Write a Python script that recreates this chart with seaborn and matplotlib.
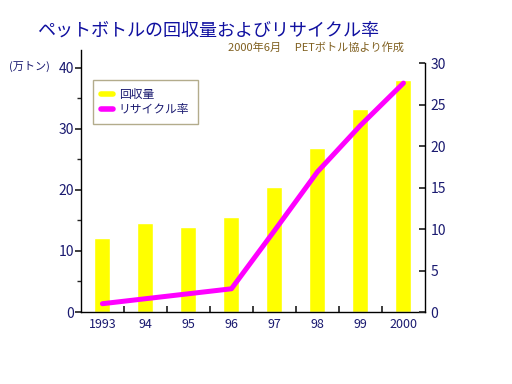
import matplotlib
matplotlib.use("Agg")
import matplotlib.pyplot as plt
import seaborn as sns
import pandas as pd
from matplotlib.lines import Line2D

years = ["1993", "94", "95", "96", "97", "98", "99", "2000"]
recovered = [12.1, 14.6, 13.9, 15.6, 20.5, 26.9, 33.3, 37.9]   # 万トン
recycle_rate = [1.0, 1.6, 2.2, 2.8, 9.8, 16.9, 22.5, 27.6]     # %

df = pd.DataFrame({"year": years, "recovered": recovered, "rate": recycle_rate})

sns.set_theme(style="white")
plt.rcParams["font.family"] = ["Noto Sans CJK JP", "DejaVu Sans"]

navy = "#1a1a70"
fig = plt.figure(figsize=(5.12, 3.84), dpi=100)
ax = fig.add_axes([0.158, 0.1875, 0.672, 0.6825])

sns.barplot(data=df, x="year", y="recovered", color="#ffff00", saturation=1,
            width=0.37, ax=ax)
ax.set_ylim(0, 42.9)
ax.set_yticks([0, 10, 20, 30, 40])
ax.set_yticks([5, 15, 25, 35], minor=True)
ax.set_xlim(-0.5, len(years) - 0.5)
ax.set_xlabel("")
ax.set_ylabel("")

ax2 = ax.twinx()
sns.lineplot(x=list(range(len(years))), y=df["rate"], color="#ff00ff",
             linewidth=3.6, ax=ax2, solid_capstyle="round")
ax2.set_ylim(0, 31.6)
ax2.set_yticks([0, 5, 10, 15, 20, 25, 30])
ax2.set_ylabel("")

ax.spines["top"].set_visible(False)
ax.spines["right"].set_visible(False)
ax2.spines["top"].set_visible(False)
ax2.spines["left"].set_visible(False)
ax2.spines["bottom"].set_visible(False)
ax2.spines["right"].set_bounds(0, 30)
for s in ("left", "bottom"):
    ax.spines[s].set_color("black")
    ax.spines[s].set_linewidth(1)
ax2.spines["right"].set_color("black")
ax2.spines["right"].set_linewidth(1)

# x ticks: marks between categories, labels under bars
ax.set_xticks([i + 0.5 for i in range(len(years) - 1)])
ax.set_xticklabels([])
ax.set_xticks(range(len(years)), minor=True)
ax.set_xticklabels(years, minor=True)
ax.tick_params(axis="x", which="major", direction="in", length=4, bottom=True)
ax.tick_params(axis="x", which="minor", length=0, labelsize=9, labelcolor=navy, pad=4)
ax.tick_params(axis="y", which="major", direction="out", length=4, left=True,
               labelsize=10, labelcolor=navy, pad=1)
ax.tick_params(axis="y", which="minor", direction="out", length=3, left=True)
ax2.tick_params(axis="y", direction="in", length=4, right=True,
                labelsize=10, labelcolor=navy, pad=4)

handles = [Line2D([], [], color="#ffff00", lw=4, solid_capstyle="round"),
           Line2D([], [], color="#ff00ff", lw=4, solid_capstyle="round")]
leg = ax.legend(handles, ["回収量", "リサイクル率"], loc="upper left",
                bbox_to_anchor=(0.035, 0.885), borderaxespad=0, frameon=True,
                fancybox=False, handlelength=1.0, fontsize=8.5, labelspacing=0.15,
                borderpad=0.7, handletextpad=0.5)
leg.get_frame().set_edgecolor("#a09870")
leg.get_frame().set_linewidth(1)
for t in leg.get_texts():
    t.set_color(navy)

fig.text(0.072, 0.92, "ペットボトルの回収量およびリサイクル率", fontsize=13,
         color="#1010a0", va="center", ha="left")
fig.text(0.445, 0.877, "2000年6月　 PETボトル協より作成", fontsize=8,
         color="#806020", va="center", ha="left")
fig.text(0.018, 0.826, "(万トン)", fontsize=8, color=navy, va="center", ha="left")

fig.savefig("out.png", dpi=100, facecolor="white")
